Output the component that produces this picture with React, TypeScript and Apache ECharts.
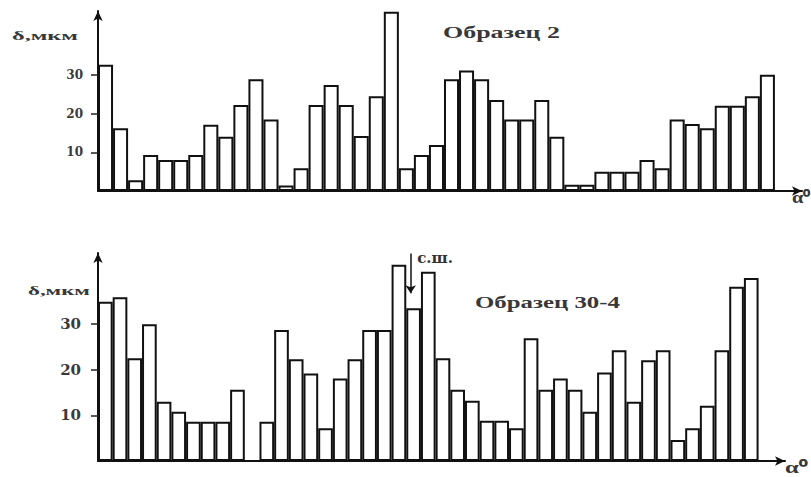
import React, { useEffect, useRef } from 'react';
import * as echarts from 'echarts';

// Sample 2 (top histogram), δ in µm per angular sector
const topValues = [
  32.6, 16.2, 2.8, 9.3, 8.0, 8.0, 9.3, 17.1, 14.0, 22.2,
  28.9, 18.5, 1.4, 5.9, 22.2, 27.4, 22.2, 14.2, 24.5, 46.3,
  5.9, 9.3, 11.9, 28.9, 31.1, 28.9, 23.5, 18.5, 18.5, 23.5,
  14.0, 1.6, 1.6, 5.0, 5.0, 5.0, 8.0, 5.9, 18.5, 17.3,
  16.2, 22.0, 22.0, 24.5, 30.0,
];
// Sample 30-4 (bottom histogram)
const bottomValues = [
  34.9, 35.9, 22.5, 30.0, 13.0, 10.8, 8.6, 8.6, 8.6, 15.6,
  0, 8.6, 28.7, 22.3, 19.2, 7.2, 18.1, 22.3, 28.7, 28.7,
  43.0, 33.5, 41.5, 22.5, 15.6, 13.2, 8.8, 8.8, 7.2, 26.9,
  15.6, 18.1, 15.6, 10.8, 19.4, 24.3, 13.0, 22.1, 24.3, 4.6,
  7.2, 12.1, 24.3, 38.2, 40.1,
];
const tickValues = [10, 20, 30];
const topTitle = 'Образец 2';
const bottomTitle = 'Образец 30-4';
const yName = 'δ,мкм';
const xName = 'α⁰';
const snLabel = 'с.ш.';
const snBarIndex = 21;
const snArrowFrom = 45.5;
const snArrowTo = 36.8;
const snLabelValue = 44.5;

const X_MAX = 46.8;
const W = 811;
const H = 477;
const gridTop = { left: 98, right: 9, top: 11, bottom: 286 };
const gridBottom = { left: 98, right: 26, top: 253, bottom: 16 };

function measure(text: string, font: string): number {
  const c = document.createElement('canvas');
  const ctx = c.getContext('2d');
  if (!ctx) return text.length * 8;
  ctx.font = font;
  return ctx.measureText(text).width || text.length * 8;
}

function stretched(text: string, x: number, y: number, width: number, fontSize: number, fontFamily: string, fontWeight: string) {
  const w = measure(text, `${fontWeight} ${fontSize}px "${fontFamily}"`);
  return {
    type: 'text',
    x,
    y,
    scaleX: width / w,
    silent: true,
    style: {
      text,
      fontSize,
      fontFamily,
      fontWeight,
      fill: '#383838',
      align: 'left',
      verticalAlign: 'top',
    },
  };
}

export default function App() {
  const ref = useRef<HTMLDivElement>(null);
  useEffect(() => {
    if (!ref.current) return;
    const chart = echarts.init(ref.current, null, { renderer: 'svg' });
    const axisLineStyle = { color: '#111', width: 2 };
    const xAxisBase = {
      type: 'value',
      min: 0,
      max: X_MAX,
      axisLine: { show: true, symbol: ['none', 'arrow'], symbolSize: [7, 10], lineStyle: axisLineStyle },
      axisTick: { show: false },
      axisLabel: { show: false },
      splitLine: { show: false },
    };
    const yAxisBase = (max: number, fontSize: number, margin: number) => ({
      type: 'value',
      min: 0,
      max,
      axisLine: { show: true, symbol: ['none', 'arrow'], symbolSize: [7, 10], lineStyle: axisLineStyle },
      axisTick: { show: true, length: 7, customValues: tickValues, lineStyle: { color: '#222', width: 1.5 } },
      axisLabel: {
        show: true,
        customValues: tickValues,
        margin,
        fontSize,
        fontFamily: 'DejaVu Serif',
        fontWeight: 'bold',
        color: '#3a3a3a',
      },
      splitLine: { show: false },
    });
    const barStyle = { color: '#fff', borderColor: '#111', borderWidth: 2 };
    const bwTop = (W - gridTop.left - gridTop.right) / X_MAX;
    const bwBottom = (W - gridBottom.left - gridBottom.right) / X_MAX;
    const option: any = {
      animation: false,
      backgroundColor: '#fff',
      grid: [gridTop, gridBottom],
      xAxis: [
        { ...xAxisBase, gridIndex: 0 },
        { ...xAxisBase, gridIndex: 1 },
      ],
      yAxis: [
        { ...yAxisBase(46.5, 12, 15), gridIndex: 0 },
        { ...yAxisBase(45.6, 15, 17), gridIndex: 1 },
      ],
      series: [
        {
          type: 'bar',
          xAxisIndex: 0,
          yAxisIndex: 0,
          barWidth: bwTop,
          silent: true,
          itemStyle: barStyle,
          data: topValues.map((v, i) => [i + 0.5, v]),
        },
        {
          type: 'bar',
          xAxisIndex: 1,
          yAxisIndex: 1,
          barWidth: bwBottom,
          silent: true,
          itemStyle: barStyle,
          data: bottomValues.map((v, i) => [i + 0.5, v]),
          markLine: {
            silent: true,
            symbol: ['none', 'arrow'],
            symbolSize: 8,
            label: { show: false },
            lineStyle: { color: '#111', width: 1.5, type: 'solid' },
            data: [[{ coord: [snBarIndex + 0.3, snArrowFrom] }, { coord: [snBarIndex + 0.3, snArrowTo] }]],
          },
          markPoint: {
            silent: true,
            symbol: 'circle',
            symbolSize: 1,
            itemStyle: { color: 'rgba(0,0,0,0)' },
            label: {
              show: true,
              position: 'right',
              distance: 6,
              formatter: snLabel,
              fontFamily: 'DejaVu Serif',
              fontWeight: 'bold',
              fontSize: 15,
              color: '#333',
            },
            data: [{ coord: [snBarIndex + 0.3, snLabelValue], value: snLabel }],
          },
        },
      ],
      graphic: [
        stretched(topTitle, 443, 24, 117, 17, 'Liberation Serif', 'bold'),
        stretched(bottomTitle, 475, 295, 145, 16, 'Liberation Serif', 'bold'),
        stretched(yName, 12, 29, 66, 13, 'Liberation Serif', 'bold'),
        stretched(yName, 28, 284, 62, 13, 'Liberation Serif', 'bold'),
        stretched(xName, 792, 190, 19, 16, 'Liberation Serif', 'bold'),
        stretched(xName, 785, 459, 23, 16, 'Liberation Serif', 'bold'),
      ],
    };
    chart.setOption(option);
    return () => chart.dispose();
  }, []);
  return (
    <div
      ref={ref}
      style={{ position: 'fixed', left: 0, top: 0, width: W, height: H, background: '#fff' }}
    />
  );
}
